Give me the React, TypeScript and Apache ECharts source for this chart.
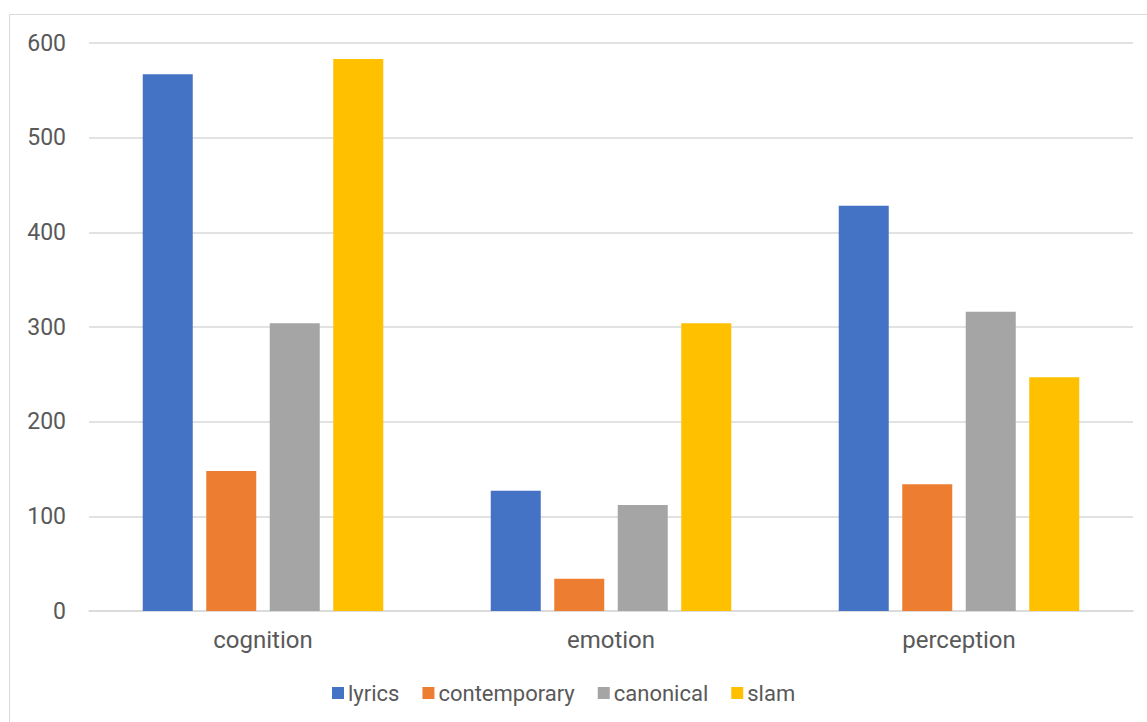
import React, { useEffect, useRef } from "react";
import * as echarts from "echarts";

const categories = ["cognition", "emotion", "perception"];
const seriesNames = ["lyrics", "contemporary", "canonical", "slam"];
const lyrics = [567, 127, 428];
const contemporary = [148, 34, 134];
const canonical = [304, 112, 316];
const slam = [583, 304, 247];
const colors = ["#4472C4", "#ED7D31", "#A5A5A5", "#FFC000"];

export default function App() {
  const ref = useRef<HTMLDivElement>(null);

  useEffect(() => {
    if (!ref.current) return;
    const chart = echarts.init(ref.current, undefined, { renderer: "svg" });
    const values = [lyrics, contemporary, canonical, slam];
    const font = "Roboto";
    chart.setOption({
      animation: false,
      color: colors,
      graphic: [
        {
          type: "rect",
          shape: { x: 9.5, y: 14.5, width: 1200, height: 800 },
          style: { fill: "none", stroke: "#d9d9d9", lineWidth: 1 },
          silent: true,
        },
      ],
      grid: { left: 89, right: 14, top: 43, bottom: 111, containLabel: false },
      legend: {
        data: seriesNames,
        top: 677,
        left: 327,
        icon: "rect",
        itemWidth: 12,
        itemHeight: 12,
        itemGap: 23,
        textStyle: { fontFamily: font, fontSize: 22, color: "#595959", padding: [0, 0, 0, -1] },
      },
      xAxis: {
        type: "category",
        data: categories,
        axisLine: { lineStyle: { color: "#d9d9d9", width: 1.5 } },
        axisTick: { show: false },
        axisLabel: { fontFamily: font, fontSize: 24, color: "#595959", margin: 17 },
      },
      yAxis: {
        type: "value",
        min: 0,
        max: 600,
        interval: 100,
        axisLine: { show: false },
        axisTick: { show: false },
        splitLine: { lineStyle: { color: "#d9d9d9", width: 1.5 } },
        axisLabel: { fontFamily: font, fontSize: 23, color: "#595959", margin: 23 },
      },
      series: seriesNames.map((name, i) => ({
        name,
        type: "bar",
        data: values[i],
        barWidth: 50,
        barGap: "27%",
        itemStyle: { color: colors[i] },
      })),
    });
    return () => chart.dispose();
  }, []);

  return (
    <div
      ref={ref}
      style={{ position: "absolute", left: 0, top: 0, width: 1147, height: 722, background: "#fff" }}
    />
  );
}
